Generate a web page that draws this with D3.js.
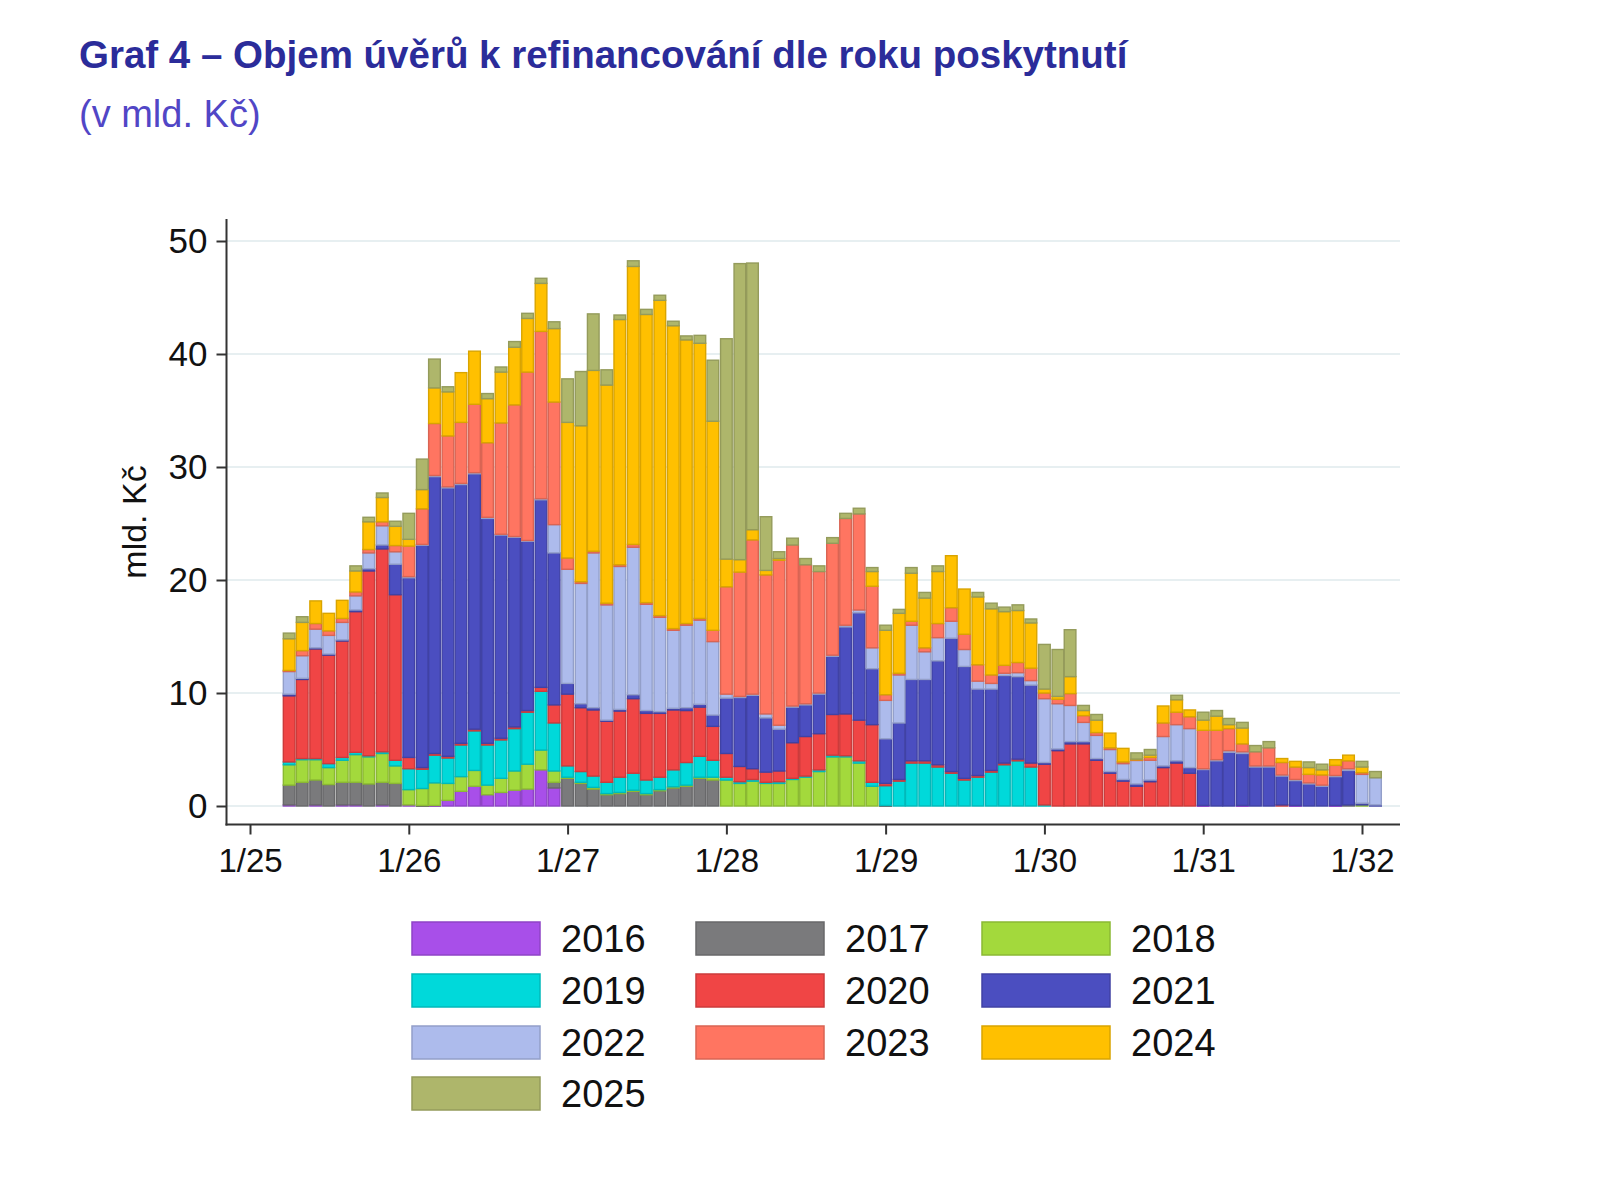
<!DOCTYPE html>
<html lang="cs">
<head>
<meta charset="utf-8" />
<title>Graf 4 – Objem úvěrů k refinancování</title>
<script src="https://d3js.org/d3.v7.min.js"></script>
<style>
  body { margin: 0; background: #ffffff; }
  svg text { font-family: "Liberation Sans", Arial, sans-serif; }
</style>
</head>
<body>
<script>
// months (bars are placed on the first day of each month)
const months = [
  "2025-04","2025-05","2025-06","2025-07","2025-08","2025-09","2025-10","2025-11","2025-12",
  "2026-01","2026-02","2026-03","2026-04","2026-05","2026-06","2026-07","2026-08","2026-09","2026-10","2026-11","2026-12",
  "2027-01","2027-02","2027-03","2027-04","2027-05","2027-06","2027-07","2027-08","2027-09","2027-10","2027-11","2027-12",
  "2028-01","2028-02","2028-03","2028-04","2028-05","2028-06","2028-07","2028-08","2028-09","2028-10","2028-11","2028-12",
  "2029-01","2029-02","2029-03","2029-04","2029-05","2029-06","2029-07","2029-08","2029-09","2029-10","2029-11","2029-12",
  "2030-01","2030-02","2030-03","2030-04","2030-05","2030-06","2030-07","2030-08","2030-09","2030-10","2030-11","2030-12",
  "2031-01","2031-02","2031-03","2031-04","2031-05","2031-06","2031-07","2031-08","2031-09","2031-10","2031-11","2031-12",
  "2032-01","2032-02"
];

// year of origination = stacked series (bottom to top)
const years = ["2016","2017","2018","2019","2020","2021","2022","2023","2024","2025"];

const s2016 = [0.1,0,0.1,0,0.1,0.1,0,0.1,0,
  0.1,0,0.05,0.5,1.3,1.75,1.0,1.2,1.4,1.5,3.2,1.6,
  0,0,0,0,0,0,0,0,0,0,0,0,
  0,0,0,0,0,0,0,0,0,0,0,0,
  0,0,0,0,0,0,0,0,0,0,0,0,
  0,0,0,0,0,0,0,0,0,0,0,0,
  0.05,0,0,0.05,0,0,0,0.05,0,0,0.05,0,
  0,0];
const s2017 = [1.75,2.1,2.2,1.9,2.0,2.0,1.95,2.0,2.0,
  0,0.05,0,0,0,0,0,0,0,0,0,0.5,
  2.45,2.0,1.5,1.0,1.1,1.3,1.0,1.35,1.6,1.75,2.45,2.3,
  0,0,0,0,0,0,0,0,0,0,0,0,
  0.05,0,0,0,0,0,0,0,0,0,0,0,
  0,0,0,0,0,0,0,0,0,0,0,0,
  0,0,0,0,0,0,0,0,0,0,0,0.1,
  0,0];
const s2018 = [1.8,2.0,1.8,1.5,1.95,2.45,2.4,2.55,1.55,
  1.35,1.5,2.0,1.5,1.3,1.4,0.85,1.25,1.7,2.2,1.75,1.0,
  0.1,0.1,0.15,0.1,0.1,0.1,0.1,0.1,0.1,0.1,0.1,0.25,
  2.3,2.0,2.2,2.0,2.0,2.35,2.55,3.05,4.35,4.35,3.8,1.75,
  0,0,0,0,0,0,0,0,0,0,0,0,
  0,0,0,0,0,0,0,0,0,0,0,0,
  0,0,0,0,0,0,0,0,0,0,0,0,
  0.1,0];
const s2019 = [0.25,0.1,0.1,0.35,0.25,0.2,0.1,0.15,0.5,
  1.85,1.7,2.45,2.25,2.8,3.5,3.55,3.4,3.75,4.6,5.2,4.25,
  1.0,0.95,1.0,1.0,1.35,1.5,1.2,1.1,1.5,2.0,1.85,1.5,
  0.25,0.15,0.15,0.1,0.15,0.1,0.1,0.15,0.15,0.1,0.2,0.35,
  1.75,2.2,3.8,3.8,3.45,2.9,2.3,2.55,3.0,3.65,4.0,3.45,
  0.1,0,0,0,0,0,0,0,0,0,0,0,
  0,0,0,0,0,0,0,0,0,0,0,0,
  0,0];
const s2020 = [5.85,7.0,9.7,9.6,10.3,12.45,16.35,17.95,14.65,
  1.0,0.15,0.15,0.15,0.15,0.15,0.15,0.15,0.15,0.15,0.35,1.6,
  6.35,5.65,5.85,5.4,5.85,6.6,5.9,5.65,5.3,4.6,4.35,3.0,
  2.1,1.35,0.95,0.9,0.95,3.15,3.5,3.2,3.6,3.7,3.6,5.1,
  0.2,0.15,0.2,0.2,0.2,0.15,0.15,0.15,0.15,0.15,0.15,0.35,
  3.6,4.9,5.5,5.5,4.05,2.9,2.2,1.75,2.15,3.4,3.8,2.9,
  0,0,0,0,0,0,0.1,0,0,0,0,0,
  0,0];
const s2021 = [0.15,0.1,0.1,0.1,0.1,0.15,0.2,0.35,2.7,
  15.9,19.7,24.5,23.75,22.9,22.6,19.9,18.0,16.8,15.0,16.6,13.45,
  0.95,0.35,0.2,0.1,0.15,0.35,0.25,0.15,0.15,0.25,0.25,1.0,
  4.9,6.1,6.5,4.8,3.7,3.15,2.8,3.5,5.15,7.7,9.5,4.95,
  3.95,5.0,7.2,7.2,9.2,11.8,9.9,7.65,7.2,7.75,7.3,6.9,
  0.15,0.15,0.2,0.2,0.15,0.15,0.15,0.2,0.15,0.15,0.2,0.5,
  3.2,4.0,4.75,4.6,3.45,3.45,2.55,2.2,1.95,1.75,2.55,3.05,
  0.15,0.1];
const s2022 = [2.0,2.0,1.65,1.65,1.55,1.25,1.4,1.7,1.1,
  0.1,0.05,0.1,0.1,0.1,0.1,0.1,0.05,0.05,0.05,0.1,2.5,
  10.1,10.65,13.7,10.2,12.65,13.05,9.4,8.35,6.9,7.3,7.45,6.5,
  0.35,0.1,0.1,0.35,0.35,0.1,0.1,0.1,0.1,0.15,0.25,1.85,
  3.4,4.25,4.8,2.45,2.05,1.5,1.5,0.7,0.5,0.2,0.35,0.4,
  5.65,4.0,3.2,1.7,2.05,1.95,1.4,2.1,1.75,2.6,3.2,3.45,
  0.05,0.1,0.15,0.15,0.1,0.1,0.1,0.1,0.1,0.1,0.1,0.15,
  2.55,2.4];
const s2023 = [0.1,0.45,0.5,0.4,0.35,0.35,0.3,0.35,0.55,
  2.7,3.15,4.6,4.5,5.4,6.05,6.6,9.85,11.65,14.9,14.8,10.85,
  1.0,0.15,0.15,0.15,0.15,0.25,0.15,0.15,0.15,0.15,0.15,1.0,
  9.5,11.0,13.65,12.3,14.6,14.25,12.3,10.75,9.9,9.45,8.5,5.45,
  0.5,0.15,0.35,0.35,1.25,1.2,1.35,1.45,0.75,0.7,0.9,1.1,
  0.5,0.4,1.05,0.6,0.25,0.15,0.15,0.05,0.25,1.2,1.1,1.05,
  3.4,2.6,1.95,0.7,1.25,1.6,1.1,1.1,0.75,0.9,0.9,0.7,
  0.15,0];
const s2024 = [2.8,2.5,2.0,1.55,1.6,1.85,2.45,2.15,1.7,
  0.6,1.7,3.15,3.9,4.4,4.7,3.9,4.5,5.1,4.75,4.25,6.5,
  12.0,13.8,16.0,19.3,21.7,24.6,25.5,27.9,26.8,25.1,24.35,18.5,
  2.45,1.1,0.9,0.4,0.15,0,0,0,0,0,0,1.3,
  5.7,5.3,4.25,4.4,4.6,4.6,4.0,6.0,5.85,4.75,4.6,4.0,
  0.35,0.25,1.5,0.45,1.1,1.3,1.2,0.05,0.2,1.5,1.1,0.6,
  0.9,1.25,0.35,1.4,0,0,0.35,0.5,0.6,0.45,0.5,0.5,
  0.5,0];
const s2025 = [0.5,0.5,0,0,0,0.45,0.4,0.4,0.45,
  2.3,2.7,2.55,0.45,0,0,0.45,0.45,0.5,0.45,0.45,0.6,
  3.85,4.8,5.0,1.35,0.4,0.5,0.45,0.45,0.4,0.35,0.7,5.4,
  19.5,26.2,23.6,4.75,0.6,0.6,0.55,0.5,0.5,0.45,0.5,0.35,
  0.45,0.35,0.5,0.5,0.5,0,0,0.4,0.5,0.4,0.5,0.35,
  3.95,4.15,4.15,0.45,0.5,0,0,0.55,0.5,0,0.4,0,
  0.7,0.5,0.55,0.5,0.55,0.55,0,0,0.5,0.5,0,0,
  0.5,0.55];

const colors = ["#a84fe9","#7a7a7c","#a3d93c","#00d9da","#f04545","#4b4ec0","#adbbec","#ff7561","#ffc000","#aeb66b"];

const yTicks = [0, 10, 20, 30, 40, 50];
const tickDates = ["2025-01","2026-01","2027-01","2028-01","2029-01","2030-01","2031-01","2032-01"];
const tickLabels = ["1/25","1/26","1/27","1/28","1/29","1/30","1/31","1/32"];

// ---------------------------------------------------------------
const width = 1600, height = 1181;
const parse = d3.timeParse("%Y-%m");

const svg = d3.select("body").append("svg")
    .attr("width", width)
    .attr("height", height);

// title
svg.append("text")
    .attr("x", 79).attr("y", 68)
    .attr("font-size", 38.5).attr("font-weight", "bold")
    .attr("fill", "#2b2c9a")
    .text("Graf 4 – Objem úvěrů k refinancování dle roku poskytnutí");
svg.append("text")
    .attr("x", 79).attr("y", 127)
    .attr("font-size", 38)
    .attr("fill", "#5146c6")
    .text("(v mld. Kč)");

// scales
const x = d3.scaleTime()
    .domain([parse("2025-01"), parse("2032-01")])
    .range([250, 1362]);
const y = d3.scaleLinear()
    .domain([0, 50])
    .range([806, 241]);

const plotLeft = 226.5, plotRight = 1400, axisY = 824.5, plotTop = 219;

// grid
svg.append("g")
    .selectAll("line")
    .data(yTicks)
    .enter()
    .append("line")
    .attr("x1", plotLeft).attr("x2", plotRight)
    .attr("y1", d => y(d)).attr("y2", d => y(d))
    .attr("stroke", "#e7eff1")
    .attr("stroke-width", 2);

// stacked bars
const series = [s2016, s2017, s2018, s2019, s2020, s2021, s2022, s2023, s2024, s2025];
const table = months.map((m, i) => {
    const row = { date: parse(m) };
    years.forEach((yr, k) => { row[yr] = series[k][i]; });
    return row;
});
const stacked = d3.stack().keys(years)(table);

const layers = svg.append("g")
    .selectAll("g")
    .data(stacked)
    .enter()
    .append("g")
    .attr("fill", (d, i) => colors[i])
    .attr("stroke", (d, i) => d3.color(colors[i]).darker(0.45))
    .attr("stroke-width", 1.4);

layers.selectAll("rect")
    .data(d => d.filter(s => s[1] - s[0] > 0))
    .enter()
    .append("rect")
    .attr("x", d => x(d3.timeDay.offset(d.data.date, -15)) + 0.7)
    .attr("width", d => x(d3.timeDay.offset(d.data.date, 15)) - x(d3.timeDay.offset(d.data.date, -15)) - 1.4)
    .attr("y", d => y(d[1]))
    .attr("height", d => Math.max(0.8, y(d[0]) - y(d[1])));

// axes
const yAxis = d3.axisLeft(y).tickValues(yTicks).tickSize(10).tickPadding(9);
const gy = svg.append("g")
    .attr("transform", "translate(" + plotLeft + ",0)")
    .call(yAxis);
gy.select(".domain").remove();
gy.selectAll("line").attr("stroke", "#333").attr("stroke-width", 2);
gy.selectAll("text").attr("font-size", 35).attr("fill", "#111")
    .attr("font-family", "Liberation Sans, Arial, sans-serif");

const xAxis = d3.axisBottom(x)
    .tickValues(tickDates.map(parse))
    .tickFormat((d, i) => tickLabels[i])
    .tickSize(10).tickPadding(14);
const gx = svg.append("g")
    .attr("transform", "translate(0," + axisY + ")")
    .call(xAxis);
gx.select(".domain").remove();
gx.selectAll("line").attr("stroke", "#333").attr("stroke-width", 2);
gx.selectAll("text").attr("font-size", 33).attr("fill", "#111")
    .attr("font-family", "Liberation Sans, Arial, sans-serif");

svg.append("line")
    .attr("x1", plotLeft).attr("x2", plotLeft).attr("y1", plotTop).attr("y2", axisY + 1)
    .attr("stroke", "#333").attr("stroke-width", 2);
svg.append("line")
    .attr("x1", plotLeft - 1).attr("x2", plotRight).attr("y1", axisY).attr("y2", axisY)
    .attr("stroke", "#333").attr("stroke-width", 2);

// y axis title
svg.append("text")
    .attr("transform", "translate(146,522) rotate(-90)")
    .attr("text-anchor", "middle")
    .attr("font-size", 34)
    .attr("fill", "#111")
    .text("mld. Kč");

// legend
const legend = svg.append("g").attr("id", "legend");
const colX = [412, 696, 982];
const rowY = [938, 990, 1042, 1093];
years.forEach((yr, i) => {
    const cx = colX[i % 3], cy = rowY[Math.floor(i / 3)];
    legend.append("rect")
        .attr("x", cx).attr("y", cy - 16)
        .attr("width", 128).attr("height", 33)
        .attr("fill", colors[i])
        .attr("stroke", d3.color(colors[i]).darker(0.45))
        .attr("stroke-width", 1.5);
    legend.append("text")
        .attr("x", cx + 149).attr("y", cy + 13.5)
        .attr("font-size", 38)
        .attr("fill", "#111")
        .text(yr);
});
</script>
</body>
</html>
